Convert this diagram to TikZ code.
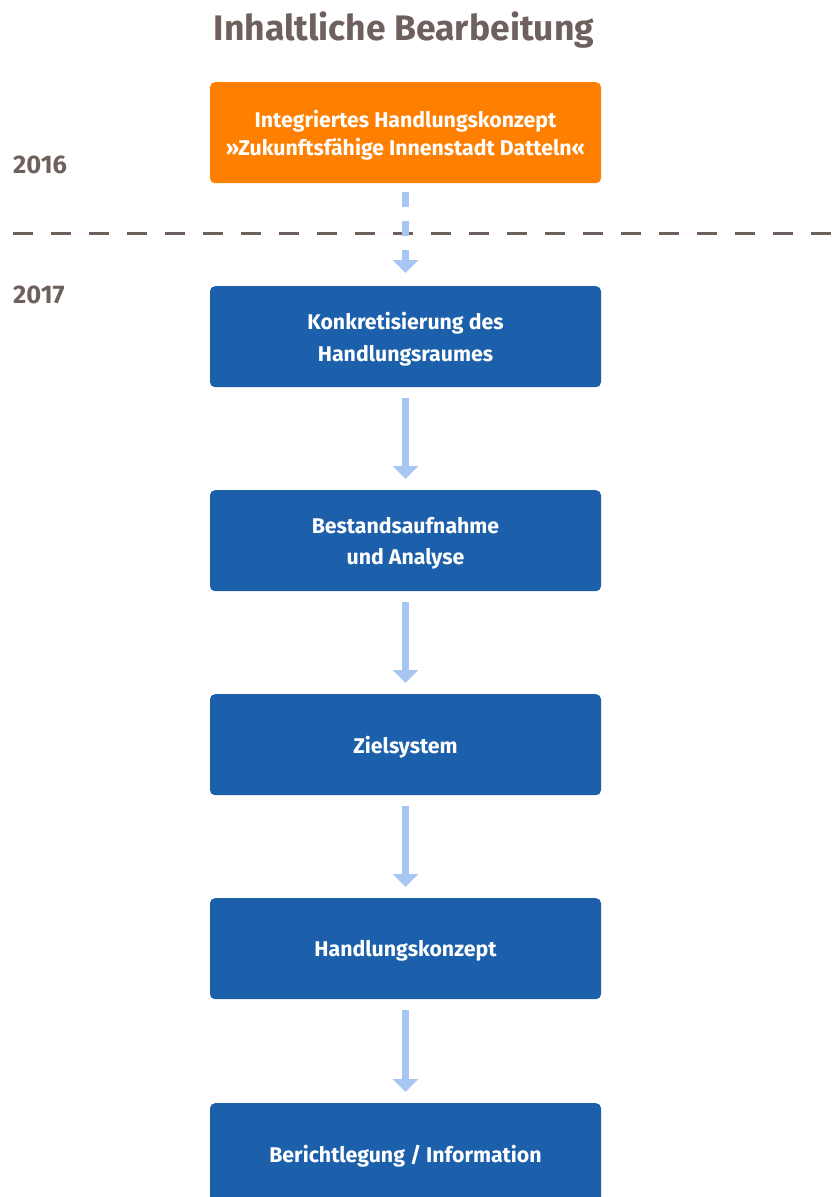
\documentclass[tikz,border=0pt]{standalone}
\usepackage{fontspec}
\setmainfont{Fira Sans}
\usetikzlibrary{arrows.meta}
\definecolor{greyb}{HTML}{6E615D}
\definecolor{orangeb}{HTML}{FF7F00}
\definecolor{blueb}{HTML}{1C5FAA}
\definecolor{arrowb}{HTML}{A8C6F2}
\tikzset{
  box/.style={fill=#1, rounded corners=5pt, minimum width=391pt, minimum height=101pt,
    inner sep=0pt, anchor=north},
  boxtext/.style={text=white, font=\fontsize{21.3}{31.5}\selectfont\bfseries, align=center, inner sep=0pt},
  arr/.style={draw=arrowb, line width=7pt, -{Triangle[width=25pt,length=13pt]}},
  year/.style={text=greyb, font=\fontsize{25.5}{28}\selectfont\bfseries, anchor=west, inner sep=0pt},
}
\begin{document}
\begin{tikzpicture}[x=1pt,y=-1pt]
\useasboundingbox (0,0) rectangle (833,1197);
\node[text=greyb, font=\fontsize{35.5}{40}\selectfont\bfseries, inner sep=0pt] (title) at (404,30) {Inhaltliche Bearbeitung};
\node[box=orangeb] (b1) at (405.5,82) {};
\node[box=blueb] (b2) at (405.5,286) {};
\node[box=blueb] (b3) at (405.5,490) {};
\node[box=blueb] (b4) at (405.5,694) {};
\node[box=blueb] (b5) at (405.5,898) {};
\node[box=blueb] (b6) at (405.5,1103) {};
\node[boxtext, font=\fontsize{21.3}{27.5}\selectfont\bfseries] (t1) at ([yshift=-2.5pt]b1.center) {Integriertes Handlungskonzept\\»Zukunftsfähige Innenstadt Datteln«};
\node[boxtext] (t2) at ([yshift=-2.5pt]b2.center) {Konkretisierung des\\Handlungsraumes};
\node[boxtext] (t3) at ([yshift=-2.5pt]b3.center) {Bestandsaufnahme\\und Analyse};
\node[boxtext] (t4) at ([yshift=-2.5pt]b4.center) {Zielsystem};
\node[boxtext] (t5) at ([yshift=-2.5pt]b5.center) {Handlungskonzept};
\node[boxtext] (t6) at ([yshift=-2.5pt]b6.center) {Berichtlegung / Information};
\node[year] (y16) at (13,165) {2016};
\node[year] (y17) at (13,295) {2017};
\coordinate (dl) at (13,233);
\coordinate (dr) at (833,233);
\draw[greyb, line width=3pt, dash pattern=on 20pt off 18pt] (dl) -- (dr);
\draw[arr, dash pattern=on 15pt off 14pt] ([yshift=-9pt]b1.south) -- ([yshift=13pt]b2.north);
\draw[arr] ([yshift=-11pt]b2.south) -- ([yshift=11pt]b3.north);
\draw[arr] ([yshift=-11pt]b3.south) -- ([yshift=11pt]b4.north);
\draw[arr] ([yshift=-11pt]b4.south) -- ([yshift=11pt]b5.north);
\draw[arr] ([yshift=-11pt]b5.south) -- ([yshift=11pt]b6.north);
\end{tikzpicture}
\end{document}
